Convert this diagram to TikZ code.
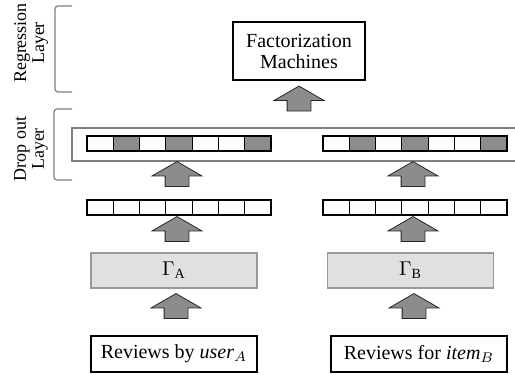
\documentclass[tikz,border=0pt]{standalone}
\usepackage{fontspec}
\setmainfont{Liberation Serif}
\usetikzlibrary{positioning,shapes.arrows}
\definecolor{cellgray}{HTML}{8C8C8C}
\definecolor{boxgray}{HTML}{E0E0E0}
\definecolor{linegray}{HTML}{7F7F7F}

\begin{document}
\begin{tikzpicture}[x=0.5pt,y=-0.5pt,
    box/.style={draw, line width=0.6pt, inner sep=0pt, align=center, font=\fontsize{10}{10.5}\selectfont},
    gammabox/.style={draw=linegray!80, fill=boxgray, line width=0.6pt, minimum width=83pt, minimum height=17.5pt, inner sep=0pt},
    cell/.style={draw, line width=0.6pt, minimum width=13.15pt, minimum height=7.5pt, inner sep=0pt, outer sep=0pt},
    upblock/.style={single arrow, draw=black!85, fill=cellgray, line width=0.4pt, rotate=90,
        inner xsep=0pt, inner ysep=5.75pt, minimum height=12.5pt, single arrow head extend=6.5pt, single arrow tip angle=120},
    brace/.style={draw=linegray, line width=0.6pt, rounded corners=1.5pt},
    sidelabel/.style={rotate=90, align=center, font=\fontsize{9}{9}\selectfont}]
    \useasboundingbox (0,0) rectangle (515,375);

    % layer labels
    \node[sidelabel] (reglabel) at (31,43) {Regression\\Layer};
    \node[sidelabel] (droplabel) at (31,149) {Drop out\\Layer};
    \draw[brace] (72,6) -| (55,92) -- (72,92);
    \draw[brace] (72,109) -| (54,180) -- (72,180);

    % regression
    \node[box, minimum width=66pt, minimum height=29pt] (fm) at (299,51) {Factorization\\Machines};

    % drop out box (runs off the right edge)
    \node[draw=linegray, line width=0.8pt, minimum width=229pt, minimum height=16.5pt, inner sep=0pt] (dropout) at (301,144.5) {};

    % vectors
    \foreach \side/\cx in {A/179, B/415} {
        \foreach \i/\f in {1/white,2/cellgray,3/white,4/cellgray,5/white,6/white,7/cellgray} {
            \node[cell, fill=\f] (drop\side\i) at ({\cx+(\i-4)*26.3}, 143.5) {};
            \node[cell] (hid\side\i) at ({\cx+(\i-4)*26.3}, 207.5) {};
        }
    }

    % encoders
    \node[gammabox] (gammaA) at (174,270.5) {$\Gamma_{\mathrm{A}}$};
    \node[gammabox] (gammaB) at (410.5,270.5) {$\Gamma_{\mathrm{B}}$};

    % inputs
    \node[box, minimum width=83pt, minimum height=18pt] (revA) at (174,354) {Reviews by \textit{user}$_A$};
    \node[box, minimum width=88pt, minimum height=18pt] (revB) at (419,354) {Reviews for \textit{item}$_B$};

    % block arrows
    \node[upblock] (upfm) at (299,102) {};
    \node[upblock] (updropA) at (177,177.5) {};
    \node[upblock] (updropB) at (413,177.5) {};
    \node[upblock] (uphidA) at (177,232.5) {};
    \node[upblock] (uphidB) at (413,232.5) {};
    \node[upblock] (uprevA) at (176,309.5) {};
    \node[upblock] (uprevB) at (414,309.5) {};

\end{tikzpicture}
\end{document}
